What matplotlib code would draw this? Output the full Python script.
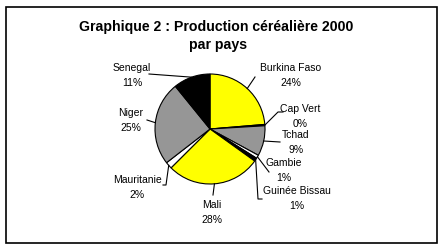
import numpy as np
import matplotlib.pyplot as plt
from matplotlib.patches import Rectangle

plt.rcParams['font.family'] = ['Liberation Sans', 'DejaVu Sans']

pays = ['Burkina Faso', 'Cap Vert', 'Tchad', 'Gambie', 'Guinée Bissau',
        'Mali', 'Mauritanie', 'Niger', 'Senegal']
production = [24, 0.4, 9, 1, 1, 28, 2, 25, 11]
pourcent = ['24%', '0%', '9%', '1%', '1%', '28%', '2%', '25%', '11%']
couleurs = ['#ffff00', '#000000', '#969696', '#ffffff', '#000000',
            '#ffff00', '#ffffff', '#969696', '#000000']

# label positions (pixel coords) and leader line points near the label
pos_noms = [(291, 68), (300, 109), (296, 135), (284, 163), (297, 191),
            (212, 205), (137, 180), (131, 113), (132, 68)]
leaders = [[(255, 78)], [(283, 113), (278, 113)], [(280, 143)], [(269, 173)],
           [(262, 200), (258, 200)], [(213, 196)], [(163, 186), (166, 186)],
           [(147, 121)], [(149, 75)]]

W, H = 444, 251
cx, cy, r = 210, 130, 55

fig = plt.figure(figsize=(W / 100, H / 100), dpi=100)
ax = fig.add_axes([0, 0, 1, 1])

wedges, _ = ax.pie(production, colors=couleurs, center=(cx, cy), radius=r,
                   startangle=-90, counterclock=True,
                   wedgeprops=dict(edgecolor='black', linewidth=0.8))
ax.set_xlim(0, W)
ax.set_ylim(H, 0)
ax.set_aspect('auto')
ax.axis('off')

for w, nom, pc, (x, y), pts in zip(wedges, pays, pourcent, pos_noms, leaders):
    a = np.deg2rad((w.theta1 + w.theta2) / 2)
    edge = (cx + r * np.cos(a), cy + r * np.sin(a))
    xs = [p[0] for p in pts] + [edge[0]]
    ys = [p[1] for p in pts] + [edge[1]]
    ax.plot(xs, ys, color='black', lw=0.8)
    ax.text(x, y, nom, ha='center', va='center', fontsize=7.5)
    ax.text(x, y + 15, pc, ha='center', va='center', fontsize=7.5)

ax.text(216, 27, 'Graphique 2 : Production céréalière 2000', ha='center',
        va='center', fontsize=10.2, fontweight='bold')
ax.text(218, 45, 'par pays', ha='center', va='center', fontsize=10.2,
        fontweight='bold')

ax.add_patch(Rectangle((5.5, 7.5), 431, 236, fill=False, edgecolor='black', lw=1.2))

fig.savefig('out.png', dpi=100)
